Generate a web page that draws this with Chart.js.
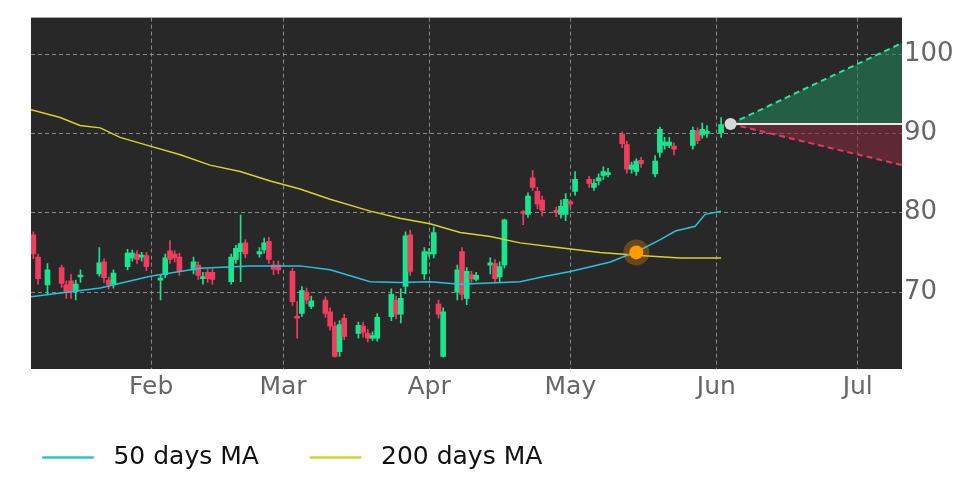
<!DOCTYPE html>
<html>
<head>
<meta charset="utf-8">
<script src="https://cdn.jsdelivr.net/npm/chart.js@4"></script>
<style>
  html, body { margin: 0; padding: 0; background: #fff; }
  #wrap { width: 972px; height: 486px; }
</style>
</head>
<body>
<div id="wrap"><canvas id="chart"></canvas></div>
<script>
// day numbers: days since Jan 1 (Jan 1 = 0)
const candleDays = [6, 7, 9, 12, 13, 14, 15, 16, 20, 21, 22, 23, 26, 27, 28, 29, 30, 33, 34, 35, 36, 37, 40, 41, 42, 43, 44, 48, 49, 50, 51, 54, 55, 56, 57, 58, 61, 62, 63, 64, 65, 68, 69, 70, 71, 72, 75, 76, 77, 78, 79, 82, 83, 84, 85, 86, 89, 90, 91, 92, 93, 96, 97, 98, 99, 100, 103, 104, 105, 106, 110, 111, 112, 113, 114, 117, 118, 119, 120, 121, 124, 125, 126, 127, 128, 131, 132, 133, 134, 135, 138, 139, 140, 141, 142, 146, 147, 148, 149, 152];
const opens  = [77.2, 74.4, 70.9, 73.1, 70.9, 71.4, 70.1, 71.9, 72.3, 73.8, 71.5, 71.0, 73.2, 74.3, 74.8, 74.4, 74.6, 71.5, 72.2, 75.2, 74.8, 74.4, 72.8, 73.4, 71.7, 72.5, 72.5, 71.3, 74.1, 75.1, 76.2, 74.8, 75.3, 76.4, 73.4, 73.4, 72.6, 66.9, 67.3, 70.0, 68.2, 69.0, 67.5, 65.7, 62.5, 66.7, 64.8, 65.7, 64.8, 64.2, 64.2, 66.9, 69.0, 67.2, 70.7, 77.2, 72.3, 74.8, 74.8, 68.5, 61.9, 70.0, 75.1, 69.2, 72.2, 71.6, 73.4, 73.6, 71.9, 73.4, 80.1, 79.8, 84.4, 82.7, 81.6, 80.3, 79.8, 79.8, 81.4, 82.7, 84.2, 83.2, 84.0, 84.7, 84.8, 89.9, 88.6, 85.5, 85.2, 86.6, 84.9, 87.6, 88.5, 88.5, 88.4, 88.5, 90.3, 89.8, 90.0, 90.1];
const closes = [74.8, 71.7, 72.8, 71.1, 70.0, 70.2, 71.0, 72.1, 73.7, 71.8, 70.9, 72.4, 74.9, 74.9, 74.1, 74.6, 73.2, 71.7, 74.3, 74.1, 74.3, 72.6, 73.8, 72.1, 71.9, 71.7, 71.6, 74.4, 75.5, 76.1, 74.8, 75.1, 76.2, 74.1, 72.9, 72.8, 68.8, 66.7, 70.2, 69.0, 68.9, 67.3, 65.7, 61.9, 65.9, 64.4, 65.8, 64.9, 64.2, 64.5, 66.8, 69.7, 67.2, 69.2, 77.1, 72.6, 75.1, 75.0, 77.5, 67.2, 67.5, 72.8, 69.7, 72.6, 71.7, 72.1, 73.7, 71.7, 73.2, 79.1, 79.9, 82.1, 83.2, 81.1, 80.3, 80.0, 80.8, 81.7, 81.1, 84.2, 83.7, 83.7, 84.4, 85.2, 85.0, 88.7, 85.5, 86.0, 86.5, 86.2, 86.5, 90.5, 88.9, 88.9, 88.0, 90.4, 89.1, 90.5, 90.2, 91.1];
const highs  = [77.6, 74.8, 73.6, 73.4, 71.4, 72.2, 71.5, 72.8, 75.6, 74.2, 71.9, 72.8, 75.4, 75.3, 75.2, 75.0, 75.0, 72.2, 74.8, 76.5, 75.2, 74.9, 74.4, 73.8, 72.5, 72.9, 72.9, 74.8, 75.9, 79.7, 76.6, 75.6, 76.8, 76.9, 73.9, 73.9, 73.0, 68.8, 70.7, 70.5, 69.5, 69.4, 68.0, 66.2, 66.4, 67.2, 66.2, 66.2, 65.3, 65.0, 67.3, 70.4, 69.5, 70.4, 77.6, 77.8, 75.6, 75.5, 78.2, 69.0, 68.0, 73.4, 75.6, 73.1, 72.6, 72.5, 74.3, 74.1, 73.8, 79.2, 80.3, 82.5, 85.3, 83.2, 82.1, 80.7, 81.6, 82.4, 81.5, 85.2, 84.6, 84.2, 84.9, 85.8, 85.6, 90.2, 89.0, 86.4, 86.8, 87.0, 87.2, 90.8, 89.5, 89.5, 88.8, 90.8, 90.7, 91.3, 91.0, 92.0];
const lows   = [74.2, 71.0, 69.8, 70.6, 69.2, 69.2, 69.0, 71.2, 72.0, 71.2, 70.4, 70.5, 72.8, 73.9, 73.6, 73.9, 72.7, 69.0, 71.8, 73.6, 73.8, 72.1, 72.3, 71.6, 71.0, 71.2, 71.0, 71.0, 73.6, 71.3, 74.3, 74.4, 74.9, 73.6, 72.2, 72.3, 68.3, 64.2, 66.9, 68.5, 67.9, 66.8, 65.2, 61.8, 61.9, 64.0, 64.2, 64.3, 63.7, 63.9, 63.8, 66.4, 66.6, 66.1, 69.8, 72.1, 71.6, 74.5, 74.3, 66.7, 61.8, 69.0, 69.0, 68.4, 71.2, 71.4, 72.3, 71.2, 71.2, 73.0, 78.5, 79.4, 82.8, 80.5, 79.6, 79.5, 79.3, 79.0, 80.6, 82.2, 83.2, 82.8, 83.5, 84.2, 84.5, 88.2, 85.0, 85.0, 84.7, 85.7, 84.5, 87.0, 88.0, 88.2, 87.3, 88.0, 88.7, 89.4, 89.5, 89.5];

const ma50Days   = [5.5, 20.2, 30.8, 41.4, 52, 62.6, 69, 77.5, 83.8, 90.2, 96.6, 109.3, 114.7, 120, 128.5, 134.8, 139.1, 142.3, 146.5, 148.6, 152];
const ma50Values = [69.4, 70.5, 72.0, 73.0, 73.3, 73.3, 72.8, 71.3, 71.2, 71.3, 71.0, 71.3, 72.0, 72.6, 73.8, 75.3, 76.6, 77.7, 78.3, 79.8, 80.2];
const ma200Days   = [5.5, 11.7, 15.9, 20.2, 24.4, 30.8, 37.2, 43.5, 49.9, 56.3, 62.6, 69, 77.5, 83.8, 90.2, 96.6, 103, 109.3, 117.8, 126.3, 134.8, 143.3, 152];
const ma200Values = [93.0, 92.0, 91.0, 90.7, 89.5, 88.4, 87.3, 86.0, 85.2, 84.0, 83.0, 81.7, 80.2, 79.3, 78.6, 77.5, 77.0, 76.2, 75.6, 75.0, 74.6, 74.3, 74.3];

const crossPoint = { x: 134, y: 75.0 };
const lastPoint = { x: 154, y: 91.2 };
const projEnd = 190.4;
const projHigh = 101.4;
const projLow = 86.0;

const monthTicks = [31, 59, 90, 120, 151, 181];
const monthLabels = ["Feb", "Mar", "Apr", "May", "Jun", "Jul"];
const yTicks = [70, 80, 90, 100];

const GREEN = "#19e58f";
const RED = "#f03c5f";

const bodies = candleDays.map((d, i) => ({ x: d, y: [opens[i], closes[i]] }));
const wicks = candleDays.map((d, i) => ({ x: d, y: [lows[i], highs[i]] }));
const candleColors = candleDays.map((d, i) => (closes[i] >= opens[i] ? GREEN : RED));

const plotBg = {
  id: "plotBg",
  beforeDraw(chart) {
    const { ctx, chartArea: a } = chart;
    ctx.save();
    ctx.fillStyle = "#282828";
    ctx.fillRect(a.left, a.top, a.right - a.left, a.bottom - a.top);
    ctx.restore();
  },
};

new Chart(document.getElementById("chart"), {
  data: {
    datasets: [
      { type: "line", label: "50 days MA", data: ma50Days.map((d, i) => ({ x: d, y: ma50Values[i] })),
        borderColor: "#27c3dc", backgroundColor: "#27c3dc", borderWidth: 1.5, pointRadius: 0, order: 1 },
      { type: "line", label: "200 days MA", data: ma200Days.map((d, i) => ({ x: d, y: ma200Values[i] })),
        borderColor: "#d4d42a", backgroundColor: "#d4d42a", borderWidth: 1.5, pointRadius: 0, order: 1 },
      { type: "line", label: "flat", data: [{ x: lastPoint.x, y: lastPoint.y }, { x: projEnd, y: lastPoint.y }],
        borderColor: "#e8e8e8", borderWidth: 2, pointRadius: 0, order: 2 },
      { type: "line", label: "up", data: [{ x: lastPoint.x, y: lastPoint.y }, { x: projEnd, y: projHigh }],
        borderColor: "#2ee39b", borderWidth: 2, borderDash: [6, 4], pointRadius: 0,
        fill: { target: 2 }, backgroundColor: "rgba(32,130,88,0.6)", order: 2 },
      { type: "line", label: "down", data: [{ x: lastPoint.x, y: lastPoint.y }, { x: projEnd, y: projLow }],
        borderColor: "#e8375e", borderWidth: 2, borderDash: [6, 4], pointRadius: 0,
        fill: { target: 2 }, backgroundColor: "rgba(130,40,62,0.6)", order: 2 },
      { type: "bar", label: "wicks", data: wicks, backgroundColor: candleColors,
        barThickness: 1, grouped: false, order: 4 },
      { type: "bar", label: "bodies", data: bodies, backgroundColor: candleColors,
        barThickness: 5, grouped: false, minBarLength: 2, order: 3 },
      { type: "scatter", label: "cross", data: [crossPoint], pointRadius: 13,
        pointBackgroundColor: "rgba(255,150,0,0.3)", pointBorderWidth: 0, order: 0 },
      { type: "scatter", label: "cross2", data: [crossPoint], pointRadius: 7,
        pointBackgroundColor: "#ff9d00", pointBorderWidth: 0, order: 0 },
      { type: "scatter", label: "last", data: [lastPoint], pointRadius: 6,
        pointBackgroundColor: "#d8d8d8", pointBorderWidth: 0, order: 0 },
    ],
  },
  plugins: [plotBg],
  options: {
    responsive: true,
    maintainAspectRatio: false,
    animation: false,
    layout: { padding: { left: 31, top: 13, right: 0, bottom: 6 } },
    plugins: {
      tooltip: { enabled: false },
      legend: {
        position: "bottom",
        align: "start",
        labels: {
          filter: (item) => item.text.includes("MA"),
          generateLabels: (chart) =>
            Chart.defaults.plugins.legend.labels.generateLabels(chart).map((l) => ({ ...l, text: " " + l.text + "     " })),
          boxWidth: 50,
          boxHeight: 1,
          padding: 12,
          color: "#111",
          font: { family: "DejaVu Sans", size: 25 },
        },
      },
    },
    scales: {
      x: {
        type: "linear",
        offset: false,
        min: 5.5,
        max: projEnd,
        afterBuildTicks: (s) => { s.ticks = monthTicks.map((v) => ({ value: v })); },
        afterFit: (s) => { s.height = 64; },
        ticks: {
          callback: (v) => monthLabels[monthTicks.indexOf(v)],
          color: "#666",
          font: { family: "DejaVu Sans", size: 25 },
          maxRotation: 0,
          autoSkip: false,
        },
        grid: { color: "#8a8a8a", offset: false, drawTicks: false },
        border: { display: false, dash: [4, 3] },
      },
      y: {
        position: "right",
        min: 60.3,
        max: 104.6,
        afterBuildTicks: (s) => { s.ticks = yTicks.map((v) => ({ value: v })); },
        afterFit: (s) => { s.width = 70; },
        ticks: { color: "#666", font: { family: "DejaVu Sans", size: 26 }, padding: 2 },
        grid: { color: "#8a8a8a", drawTicks: false },
        border: { display: false, dash: [4, 3] },
      },
    },
  },
});
</script>
</body>
</html>
